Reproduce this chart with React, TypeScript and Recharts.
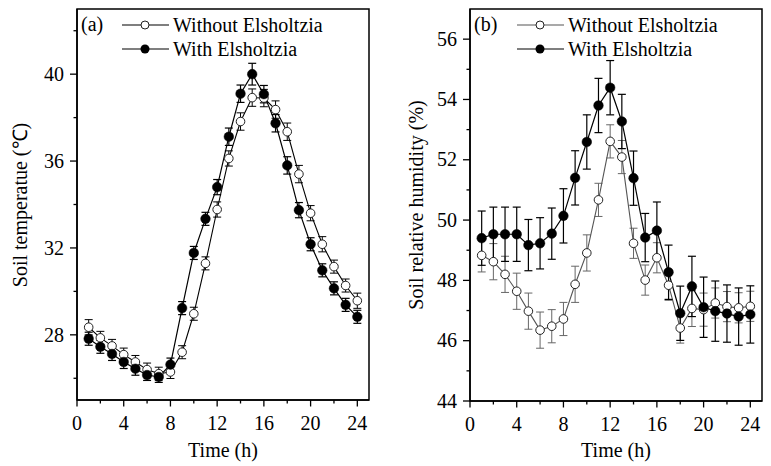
import React from 'react';
import { LineChart, Line, XAxis, YAxis, ErrorBar, ReferenceArea } from 'recharts';

const hours = [1, 2, 3, 4, 5, 6, 7, 8, 9, 10, 11, 12, 13, 14, 15, 16, 17, 18, 19, 20, 21, 22, 23, 24];

const tempWithout = [28.35, 27.86, 27.49, 27.09, 26.75, 26.4, 26.21, 26.29, 27.2, 28.97, 31.29, 33.77, 36.12, 37.82, 38.92, 38.9, 38.37, 37.35, 35.4, 33.6, 32.17, 31.14, 30.27, 29.57];
const tempWithoutErr = [0.35, 0.3, 0.3, 0.3, 0.3, 0.3, 0.3, 0.3, 0.3, 0.3, 0.3, 0.35, 0.35, 0.4, 0.4, 0.4, 0.4, 0.4, 0.4, 0.35, 0.35, 0.3, 0.3, 0.35];
const tempWith = [27.82, 27.45, 27.12, 26.75, 26.44, 26.15, 26.06, 26.63, 29.23, 31.77, 33.34, 34.8, 37.12, 39.1, 40.0, 39.08, 37.74, 35.8, 33.74, 32.17, 30.97, 30.14, 29.38, 28.83];
const tempWithErr = [0.3, 0.3, 0.3, 0.3, 0.3, 0.25, 0.25, 0.3, 0.3, 0.3, 0.3, 0.35, 0.4, 0.4, 0.5, 0.4, 0.4, 0.4, 0.35, 0.3, 0.3, 0.3, 0.3, 0.3];

const humWithout = [48.83, 48.62, 48.2, 47.64, 46.98, 46.35, 46.48, 46.72, 47.87, 48.91, 50.67, 52.61, 52.09, 49.23, 48.01, 48.75, 47.84, 46.42, 47.07, 47.03, 47.25, 47.13, 47.09, 47.14];
const humWithoutErr = [0.55, 0.6, 0.6, 0.6, 0.6, 0.6, 0.55, 0.55, 0.6, 0.6, 0.55, 0.55, 0.55, 0.5, 0.5, 0.5, 0.5, 0.5, 0.6, 0.55, 0.5, 0.5, 0.5, 0.5];
const humWith = [49.4, 49.53, 49.53, 49.53, 49.17, 49.23, 49.55, 50.14, 51.4, 52.59, 53.8, 54.39, 53.27, 51.39, 49.42, 49.65, 48.27, 46.91, 47.8, 47.11, 46.98, 46.9, 46.8, 46.87];
const humWithErr = [0.9, 0.9, 0.9, 0.9, 0.85, 0.85, 0.85, 0.9, 0.9, 0.9, 0.9, 0.9, 0.9, 0.9, 0.8, 0.95, 0.9, 0.9, 1.0, 1.0, 1.0, 0.95, 0.95, 0.95];

const xTicks = [0, 2, 4, 6, 8, 10, 12, 14, 16, 18, 20, 22, 24];
const xMajor = [0, 4, 8, 12, 16, 20, 24];
const tempTicks = [26, 28, 30, 32, 34, 36, 38, 40, 42];
const tempMajor = [28, 32, 36, 40];
const humTicks = [44, 45, 46, 47, 48, 49, 50, 51, 52, 53, 54, 55, 56];
const humMajor = [44, 46, 48, 50, 52, 54, 56];

const seriesNames = ['Without Elsholtzia', 'With Elsholtzia'];
const panelLabels = ['(a)', '(b)'];
const yTitles = ['Soil temperatue (\u2103)', 'Soil relative humidity (%)'];
const xTitle = 'Time (h)';

const FONT = "'Liberation Serif', 'Times New Roman', serif";

const tempData = hours.map((h, i) => ({
  h,
  a: tempWithout[i],
  aErr: tempWithoutErr[i],
  b: tempWith[i],
  bErr: tempWithErr[i],
}));
const humData = hours.map((h, i) => ({
  h,
  a: humWithout[i],
  aErr: humWithoutErr[i],
  b: humWith[i],
  bErr: humWithErr[i],
}));

const makeXTick = (major: number[]) => (props: any) => {
  const { x, y, payload } = props;
  const isMajor = major.includes(payload.value);
  return (
    <g>
      <line x1={x} x2={x} y1={y} y2={y + (isMajor ? 6.5 : 3.5)} stroke="#000" strokeWidth={1.3} />
      {isMajor && (
        <text x={x} y={y + 30} textAnchor="middle" fontFamily={FONT} fontSize={20} fill="#000">
          {payload.value}
        </text>
      )}
    </g>
  );
};

const makeYTick = (major: number[]) => (props: any) => {
  const { x, y, payload } = props;
  const isMajor = major.includes(payload.value);
  return (
    <g>
      <line x1={x} x2={x - (isMajor ? 7 : 3.5)} y1={y} y2={y} stroke="#000" strokeWidth={1.3} />
      {isMajor && (
        <text x={x - 13} y={y + 6.7} textAnchor="end" fontFamily={FONT} fontSize={20} fill="#000">
          {payload.value}
        </text>
      )}
    </g>
  );
};

type PanelProps = {
  left: number;
  width: number;
  data: any[];
  yDomain: [number, number];
  yTicks: number[];
  yMajor: number[];
  yAxisWidth: number;
  marginRight: number;
  xAxisHeight: number;
  openLine: string;
  openErr: string;
  panel: string;
  yTitle: string;
  yTitleX: number;
  legendX: number;
  plotLeft: number;
  plotRight: number;
};

const Panel = (p: PanelProps) => {
  const plotCenterX = (p.plotLeft + p.plotRight) / 2;
  return (
    <div style={{ position: 'absolute', left: p.left, top: 0, width: p.width, height: 466 }}>
      <LineChart
        width={p.width}
        height={466}
        data={p.data}
        margin={{ top: 9, right: p.marginRight, bottom: 0, left: 0 }}
      >
        <XAxis
          dataKey="h"
          type="number"
          domain={[0, 25]}
          ticks={xTicks}
          interval={0}
          tickSize={0}
          tickMargin={0}
          height={p.xAxisHeight}
          axisLine={{ stroke: '#000', strokeWidth: 1.5 }}
          tickLine={false}
          tick={makeXTick(xMajor)}
        />
        <YAxis
          type="number"
          domain={p.yDomain}
          ticks={p.yTicks}
          interval={0}
          tickSize={0}
          tickMargin={0}
          width={p.yAxisWidth}
          axisLine={{ stroke: '#000', strokeWidth: 1.5 }}
          tickLine={false}
          tick={makeYTick(p.yMajor)}
          allowDataOverflow
        />
        <ReferenceArea
          x1={0}
          x2={25}
          y1={p.yDomain[0]}
          y2={p.yDomain[1]}
          fill="none"
          stroke="#000"
          strokeWidth={1.5}
          ifOverflow="visible"
        />
        <Line
          dataKey="a"
          stroke={p.openLine}
          strokeWidth={1.1}
          isAnimationActive={false}
          dot={{ r: 4.3, fill: '#fff', stroke: '#222', strokeWidth: 1 }}
          activeDot={false}
        >
          <ErrorBar dataKey="aErr" direction="y" width={4} stroke={p.openErr} strokeWidth={1} />
        </Line>
        <Line
          dataKey="b"
          stroke="#000"
          strokeWidth={1.2}
          isAnimationActive={false}
          dot={{ r: 4.8, fill: '#000', stroke: '#000', strokeWidth: 0.5 }}
          activeDot={false}
        >
          <ErrorBar dataKey="bErr" direction="y" width={4} stroke="#000" strokeWidth={1.2} />
        </Line>
      </LineChart>
      <svg
        width={p.width}
        height={466}
        style={{ position: 'absolute', left: 0, top: 0, pointerEvents: 'none' }}
        fontFamily={FONT}
        fontSize={20}
      >
        <text x={p.plotLeft + 4} y={31} fill="#000">{p.panel}</text>
        <line x1={p.legendX} x2={p.legendX + 47} y1={25} y2={25} stroke={p.openLine} strokeWidth={1.2} />
        <circle cx={p.legendX + 23} cy={25} r={4} fill="#fff" stroke="#222" strokeWidth={1} />
        <text x={p.legendX + 51} y={31.5} fill="#000">{seriesNames[0]}</text>
        <line x1={p.legendX} x2={p.legendX + 47} y1={49} y2={49} stroke="#000" strokeWidth={1.2} />
        <circle cx={p.legendX + 23} cy={49} r={4.5} fill="#000" />
        <text x={p.legendX + 51} y={55.5} fill="#000">{seriesNames[1]}</text>
        <text
          x={p.yTitleX}
          y={205}
          textAnchor="middle"
          transform={`rotate(-90, ${p.yTitleX}, 205)`}
          fill="#000"
        >
          {p.yTitle}
        </text>
        <text x={plotCenterX} y={457} textAnchor="middle" fill="#000">{xTitle}</text>
      </svg>
    </div>
  );
};

export default function App() {
  return (
    <div style={{ position: 'absolute', left: 0, top: 0, width: 771, height: 466, background: '#fff' }}>
      <Panel
        left={0}
        width={385}
        data={tempData}
        yDomain={[25, 43]}
        yTicks={tempTicks}
        yMajor={tempMajor}
        yAxisWidth={77}
        marginRight={16}
        xAxisHeight={66}
        openLine="#000"
        openErr="#000"
        panel={panelLabels[0]}
        yTitle={yTitles[0]}
        yTitleX={27}
        legendX={122}
        plotLeft={77}
        plotRight={369}
      />
      <Panel
        left={385}
        width={386}
        data={humData}
        yDomain={[44, 57]}
        yTicks={humTicks}
        yMajor={humMajor}
        yAxisWidth={85}
        marginRight={9}
        xAxisHeight={65}
        openLine="#555"
        openErr="#666"
        panel={panelLabels[1]}
        yTitle={yTitles[1]}
        yTitleX={38}
        legendX={132}
        plotLeft={85}
        plotRight={377}
      />
    </div>
  );
}
